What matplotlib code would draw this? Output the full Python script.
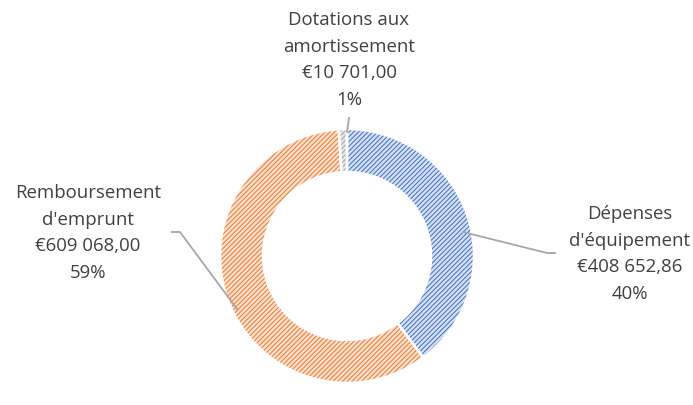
import matplotlib
matplotlib.use("Agg")
import matplotlib.pyplot as plt

categories = ["Dépenses\nd'équipement", "Remboursement\nd'emprunt", "Dotations aux\namortissement"]
values = [408652.86, 609068.00, 10701.00]
colors = ["#4472C4", "#ED7D31", "#A5A5A5"]
tints = ["#d6e0f3", "#fbe1cf", "#e6e6e6"]

plt.rcParams["hatch.linewidth"] = 0.75

W, H = 693, 405
fig = plt.figure(figsize=(W / 100, H / 100), dpi=100)
ax = fig.add_axes([0, 0, 1, 1])

cx, cy = 347, H - 256
R = 127
width = 43

wedges, _ = ax.pie(values, startangle=90, counterclock=False, radius=R, center=(cx, cy),
                   colors=tints, wedgeprops=dict(width=width, linewidth=0))
for w, c in zip(wedges, colors):
    w.set_edgecolor(c)
    w.set_linewidth(0)
    w.set_hatch("/" * 7)
wedges2, _ = ax.pie(values, startangle=90, counterclock=False, radius=R, center=(cx, cy),
                    wedgeprops=dict(width=width, linewidth=1.8, edgecolor="white", fill=False))

ax.set_xlim(0, W)
ax.set_ylim(0, H)
ax.set_aspect("equal")
ax.axis("off")

total = sum(values)

def fmt(v):
    s = f"{v:,.2f}"
    ip, dp = s.split(".")
    return "€" + ip.replace(",", " ") + "," + dp

def label(i):
    return f"{categories[i]}\n{fmt(values[i])}\n{round(values[i] / total * 100)}%"

txt = dict(fontsize=13.4, color="#404040", family="Open Sans", ha="center", va="center",
           linespacing=1.6)
ax.text(630, H - 254, label(0), **txt)
ax.text(88, H - 233, label(1), **txt)
ax.text(349, H - 60, label(2), **txt)

lc = dict(color="#A6A6A6", linewidth=1.3)
ax.plot([463, 547, 555], [H - 232, H - 253, H - 253], **lc)
ax.plot([172, 180, 237], [H - 232, H - 232, H - 309], **lc)
ax.plot([347, 349], [H - 132, H - 118], **lc)

fig.savefig("out.png", dpi=100)
